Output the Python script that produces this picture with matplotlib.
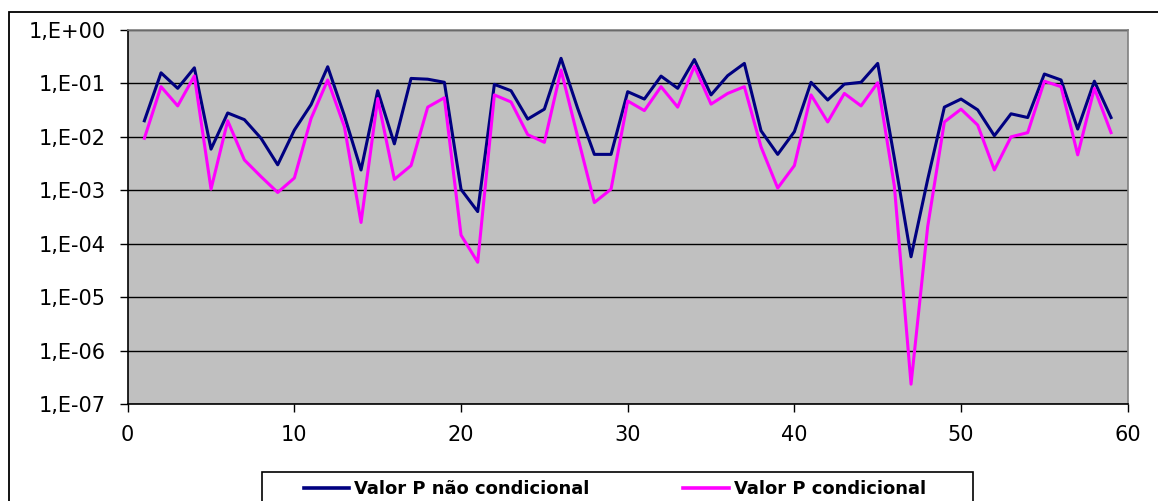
import math

import matplotlib

matplotlib.use("Agg")
import matplotlib.pyplot as plt
from matplotlib.patches import Rectangle
from matplotlib.ticker import FixedLocator, FuncFormatter

# observations 1..59
obs = list(range(1, 60))

# Valor P nao condicional (navy)
p_nao_cond = [
    0.020, 0.158, 0.081, 0.196, 0.0059, 0.028, 0.021, 0.0094, 0.0030, 0.0134,
    0.040, 0.205, 0.025, 0.0024, 0.073, 0.0074, 0.124, 0.120, 0.105, 0.00104,
    0.00040, 0.096, 0.073, 0.0215, 0.033, 0.295, 0.034, 0.0047, 0.0047, 0.070,
    0.051, 0.137, 0.081, 0.280, 0.061, 0.140, 0.237, 0.013, 0.0047, 0.0125,
    0.105, 0.049, 0.097, 0.105, 0.237, 0.0040, 0.000057, 0.0016, 0.036, 0.051,
    0.032, 0.0105, 0.027, 0.023, 0.150, 0.116, 0.014, 0.110, 0.023,
]

# Valor P condicional (magenta)
p_cond = [
    0.0094, 0.087, 0.038, 0.138, 0.00105, 0.020, 0.0037, 0.0018, 0.00091, 0.0017,
    0.022, 0.116, 0.0155, 0.00025, 0.052, 0.0016, 0.0029, 0.036, 0.054, 0.000145,
    0.000045, 0.061, 0.045, 0.011, 0.0079, 0.178, 0.010, 0.00059, 0.00105, 0.047,
    0.031, 0.087, 0.036, 0.210, 0.041, 0.065, 0.087, 0.0065, 0.0011, 0.0029,
    0.061, 0.019, 0.065, 0.038, 0.103, 0.0012, 2.35e-7, 0.00021, 0.019, 0.033,
    0.0166, 0.0024, 0.010, 0.012, 0.110, 0.087, 0.0046, 0.081, 0.012,
]

series_names = ["Valor P não condicional", "Valor P condicional"]
x_ticks = [0, 10, 20, 30, 40, 50, 60]
y_decades = [1e-7, 1e-6, 1e-5, 1e-4, 1e-3, 1e-2, 1e-1, 1e0]

# wide sans to mimic the stretched Excel rendering
plt.rcParams["font.family"] = ["DejaVu Sans"]

W, H = 1158, 501
fig = plt.figure(figsize=(W / 100, H / 100), dpi=100)
ax = fig.add_axes([127.7 / W, 1 - 404 / H, 1000 / W, 374 / H])
ax.set_facecolor("#C0C0C0")

ax.plot(obs, p_nao_cond, color="#000080", lw=2.2, label=series_names[0], zorder=3)
ax.plot(obs, p_cond, color="#FF00FF", lw=2.2, label=series_names[1], zorder=3)

ax.set_yscale("log")
ax.set_ylim(1e-7, 1e0)
ax.set_xlim(0, 60)
ax.yaxis.set_major_locator(FixedLocator(y_decades))
ax.yaxis.set_minor_locator(FixedLocator([]))
ax.yaxis.set_major_formatter(
    FuncFormatter(lambda v, pos: "1,E{:+03d}".format(int(round(math.log10(v)))))
)
ax.set_xticks(x_ticks)
ax.grid(axis="y", color="black", lw=1.0)
ax.set_axisbelow(True)

ax.tick_params(axis="y", direction="out", length=6, width=1, pad=10,
               labelsize=15, color="black")
ax.tick_params(axis="x", direction="out", length=6, width=1, pad=9,
               labelsize=15, color="black")

for side in ("left", "bottom"):
    ax.spines[side].set_color("black")
    ax.spines[side].set_linewidth(1.2)
for side in ("top", "right"):
    ax.spines[side].set_color("#808080")
    ax.spines[side].set_linewidth(1.2)

# legend entries without frame; the box is drawn separately (cropped at bottom)
leg = fig.legend(
    loc="upper left",
    bbox_to_anchor=(304 / W, 1 - 480 / H),
    ncol=2,
    frameon=False,
    borderaxespad=0,
    borderpad=0,
    handlelength=2.5,
    handletextpad=0.28,
    columnspacing=5.2,
    prop={"weight": "bold", "size": 13},
)
for line in leg.get_lines():
    line.set_linewidth(2.6)

fig.patches.append(
    Rectangle((262 / W, -0.1), 711 / W, 0.1 + 1 - 472 / H, transform=fig.transFigure,
              fill=False, edgecolor="black", lw=1.2, clip_on=False)
)

# outer chart border (cropped at right/bottom like the source)
fig.patches.append(
    Rectangle((9 / W, -0.2), 1.2, 1 - 12 / H + 0.2, transform=fig.transFigure,
              fill=False, edgecolor="black", lw=1.3, clip_on=False)
)

fig.savefig("out.png", dpi=100)
plt.close(fig)
